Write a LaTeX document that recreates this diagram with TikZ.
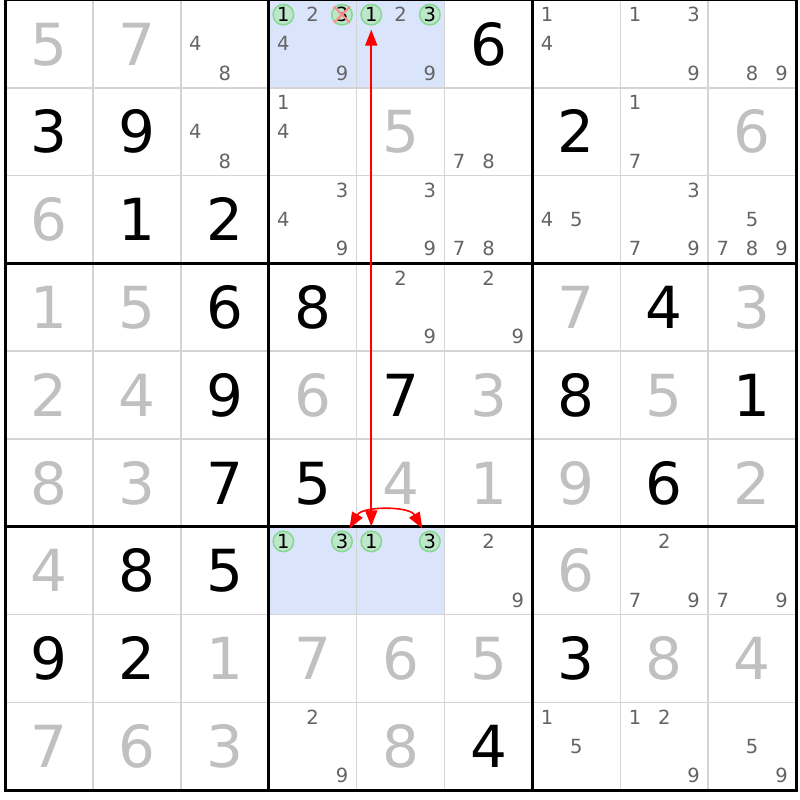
\documentclass[tikz,border=0pt]{standalone}
\usepackage{fontspec}
\setmainfont{DejaVu Sans}
\usetikzlibrary{arrows.meta}
\definecolor{solvedgray}{HTML}{C0C0C0}
\definecolor{candgray}{HTML}{646464}
\definecolor{thingray}{HTML}{D4D4D4}
\definecolor{hilite}{HTML}{DAE4FA}
\definecolor{circfill}{HTML}{BEE6CA}
\definecolor{circline}{HTML}{84D890}
\definecolor{xred}{HTML}{FF8C8C}
\definecolor{linkred}{HTML}{FF0000}
\begin{document}
\begin{tikzpicture}[x=1pt,y=-1pt,
  given/.style={font=\fontsize{58}{58}\selectfont, text=black, inner sep=0pt, text height=42.3pt, text depth=0pt},
  solved/.style={given, text=solvedgray},
  cand/.style={font=\fontsize{19.5}{19.5}\selectfont, text=candgray, inner sep=0pt, text height=14.2pt, text depth=0pt},
  hitcand/.style={cand, text=black, circle, draw=circline, fill=circfill, line width=1.5pt, minimum size=20.5pt},
  link/.style={color=linkred, draw=linkred, line width=1.6pt, {Triangle[length=16pt,width=12pt]}-{Triangle[length=16pt,width=12pt]}, shorten <=4pt, shorten >=4pt},
  crossout/.style={draw=xred, line width=2pt},
  thinline/.style={draw=thingray, line width=1.5pt},
  thickline/.style={draw=black, line width=3pt}
]
\def\cw{87.9}
\def\ch{87.8}
\useasboundingbox (0,0) rectangle (800,800);
\fill[white] (0,0) rectangle (800,800);
% highlighted cells
\foreach \r/\c in {1/4,1/5,7/4,7/5}
  \fill[hilite] ({5+(\c-1)*\cw},{(\r-1)*\ch}) rectangle ({5+\c*\cw},{\r*\ch});
% thin lines
\foreach \i in {1,2,4,5,7,8} {
  \draw[thinline] ({5+\i*\cw},0) -- ({5+\i*\cw},{9*\ch});
  \draw[thinline] (5,{\i*\ch}) -- ({5+9*\cw},{\i*\ch});
}
% thick lines
\foreach \i in {0,3,6,9} {
  \draw[thickline] ({5+\i*\cw},-1.5) -- ({5+\i*\cw},{9*\ch+1.5});
  \draw[thickline] (3.5,{\i*\ch}) -- ({5+9*\cw+1.5},{\i*\ch});
}
% given digits
\foreach \r/\c/\d in {1/6/6, 2/1/3, 2/2/9, 2/7/2, 3/2/1, 3/3/2, 4/3/6, 4/4/8, 4/8/4,
  5/3/9, 5/5/7, 5/7/8, 5/9/1, 6/3/7, 6/4/5, 6/8/6, 7/2/8, 7/3/5, 8/1/9, 8/2/2, 8/7/3, 9/6/4}
  \node[given] (g\r\c) at ({5+(\c-0.5)*\cw},{(\r-0.5)*\ch}) {\d};
% solved digits
\foreach \r/\c/\d in {1/1/5, 1/2/7, 2/5/5, 2/9/6, 3/1/6, 4/1/1, 4/2/5, 4/7/7, 4/9/3,
  5/1/2, 5/2/4, 5/4/6, 5/6/3, 5/8/5, 6/1/8, 6/2/3, 6/5/4, 6/6/1, 6/7/9, 6/9/2,
  7/1/4, 7/7/6, 8/3/1, 8/4/7, 8/5/6, 8/6/5, 8/8/8, 8/9/4, 9/1/7, 9/2/6, 9/3/3, 9/5/8}
  \node[solved] (s\r\c) at ({5+(\c-0.5)*\cw},{(\r-0.5)*\ch}) {\d};
% candidates
\foreach \r/\c/\L in {1/3/{4,8}, 1/4/{2,4,9}, 1/5/{2,9}, 1/7/{1,4}, 1/8/{1,3,9}, 1/9/{8,9},
  2/3/{4,8}, 2/4/{1,4}, 2/6/{7,8}, 2/8/{1,7},
  3/4/{3,4,9}, 3/5/{3,9}, 3/6/{7,8}, 3/7/{4,5}, 3/8/{3,7,9}, 3/9/{5,7,8,9},
  4/5/{2,9}, 4/6/{2,9}, 7/6/{2,9}, 7/8/{2,7,9}, 7/9/{7,9},
  9/4/{2,9}, 9/7/{1,5}, 9/8/{1,2,9}, 9/9/{5,9}} {
  \foreach \n in \L {
    \pgfmathtruncatemacro\cc{mod(\n-1,3)}
    \pgfmathtruncatemacro\rr{int((\n-1)/3)}
    \node[cand] (k\r\c\n) at ({5+(\c-1)*\cw+(\cc+0.5)*\cw/3},{(\r-1)*\ch+(\rr+0.5)*\ch/3}) {\n};
  }
}
% circled candidates
\foreach \r/\c/\n in {1/4/1, 1/4/3, 1/5/1, 1/5/3, 7/4/1, 7/4/3, 7/5/1, 7/5/3} {
  \pgfmathtruncatemacro\cc{mod(\n-1,3)}
  \pgfmathtruncatemacro\rr{int((\n-1)/3)}
  \node[hitcand] (k\r\c\n) at ({5+(\c-1)*\cw+(\cc+0.5)*\cw/3},{(\r-1)*\ch+(\rr+0.5)*\ch/3}) {\n};
}
% crossed out candidate
\draw[crossout] ([shift={(-8,-8)}]k143.center) -- ([shift={(8,8)}]k143.center);
\draw[crossout] ([shift={(8,-8)}]k143.center) -- ([shift={(-8,8)}]k143.center);
% links
\draw[link] (k751) -- (k151);
\draw[link] (k743) to[bend left=60] (k753);
\end{tikzpicture}
\end{document}
